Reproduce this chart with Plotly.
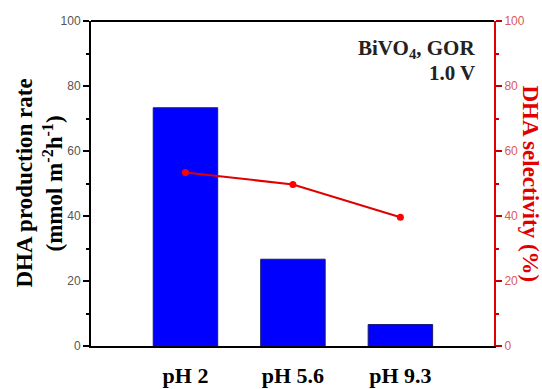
import plotly.graph_objects as go

categories = ["pH 2", "pH 5.6", "pH 9.3"]
production_rate = [73.3, 26.7, 6.6]
selectivity = [53.4, 49.7, 39.6]
y_ticks = [0, 20, 40, 60, 80, 100]

xpos = list(range(1, len(categories) + 1))

fig = go.Figure()
fig.add_trace(go.Bar(
    x=xpos, y=production_rate, width=0.6,
    marker=dict(color="#0000ff", line=dict(color="#1a1a6e", width=1)),
    showlegend=False,
))
fig.add_trace(go.Scatter(
    x=xpos, y=selectivity, yaxis="y2", mode="lines+markers",
    line=dict(color="#e00000", width=2),
    marker=dict(color="#ff0000", size=7),
    showlegend=False,
))

serif = "Liberation Serif, Times New Roman, serif"
sans = "Liberation Sans, Arial, sans-serif"

fig.update_layout(
    width=542, height=389,
    margin=dict(l=91, r=48, t=21, b=43),
    plot_bgcolor="white", paper_bgcolor="white",
    xaxis=dict(
        range=[0.121, 3.871], tickmode="array", tickvals=xpos,
        ticktext=["<b>%s</b>" % c for c in categories],
        showline=True, linecolor="black", linewidth=2,
        ticks="", showgrid=False, zeroline=False, automargin=False,
        tickfont=dict(family=serif, size=22, color="black"),
        ticklabelstandoff=9,
    ),
    yaxis=dict(
        range=[0, 100], tickmode="array", tickvals=y_ticks,
        showline=True, linecolor="black", linewidth=2, automargin=False,
        ticks="outside", ticklen=6, tickwidth=2, tickcolor="black",
        minor=dict(ticks="outside", ticklen=3, tickwidth=2, dtick=10, tickcolor="black"),
        showgrid=False, zeroline=False,
        tickfont=dict(family=sans, size=12, color="#555555"),
    ),
    yaxis2=dict(
        range=[0, 100], tickmode="array", tickvals=y_ticks, overlaying="y", side="right",
        showline=True, linecolor="#e00000", linewidth=2, automargin=False,
        ticks="outside", ticklen=6, tickwidth=2, tickcolor="#c00000",
        minor=dict(ticks="outside", ticklen=3, tickwidth=2, dtick=10, tickcolor="#c00000"),
        showgrid=False, zeroline=False,
        tickfont=dict(family=sans, size=12, color="#d85a5a"),
    ),
    shapes=[
        dict(type="line", xref="paper", yref="paper", x0=0, x1=1, y0=1, y1=1,
             line=dict(color="black", width=2)),
    ],
    annotations=[
        dict(text="<b>DHA production rate</b>", xref="paper", yref="paper",
             x=0, xshift=-67, y=0.5, textangle=-90, showarrow=False,
             font=dict(family=serif, size=23, color="black"), xanchor="center", yanchor="middle"),
        dict(text="<b>(mmol m<sup>-2</sup>h<sup>-1</sup>)</b>", xref="paper", yref="paper",
             x=0, xshift=-38, y=0.5, textangle=-90, showarrow=False,
             font=dict(family=serif, size=23, color="black"), xanchor="center", yanchor="middle"),
        dict(text="<b>DHA selectivity (%)</b>", xref="paper", yref="paper",
             x=1.0, xshift=36, y=0.5, textangle=90, showarrow=False,
             font=dict(family=serif, size=23, color="#e00000"), xanchor="center", yanchor="middle"),
        dict(text="<b>BiVO<sub>4</sub>, GOR</b>", xref="paper", yref="paper",
             x=0.957, y=0.915, showarrow=False, xanchor="right", yanchor="middle",
             font=dict(family=serif, size=21, color="#222222")),
        dict(text="<b>1.0 V</b>", xref="paper", yref="paper",
             x=0.957, y=0.84, showarrow=False, xanchor="right", yanchor="middle",
             font=dict(family=serif, size=21, color="#222222")),
    ],
)

fig.write_html("out.html")
